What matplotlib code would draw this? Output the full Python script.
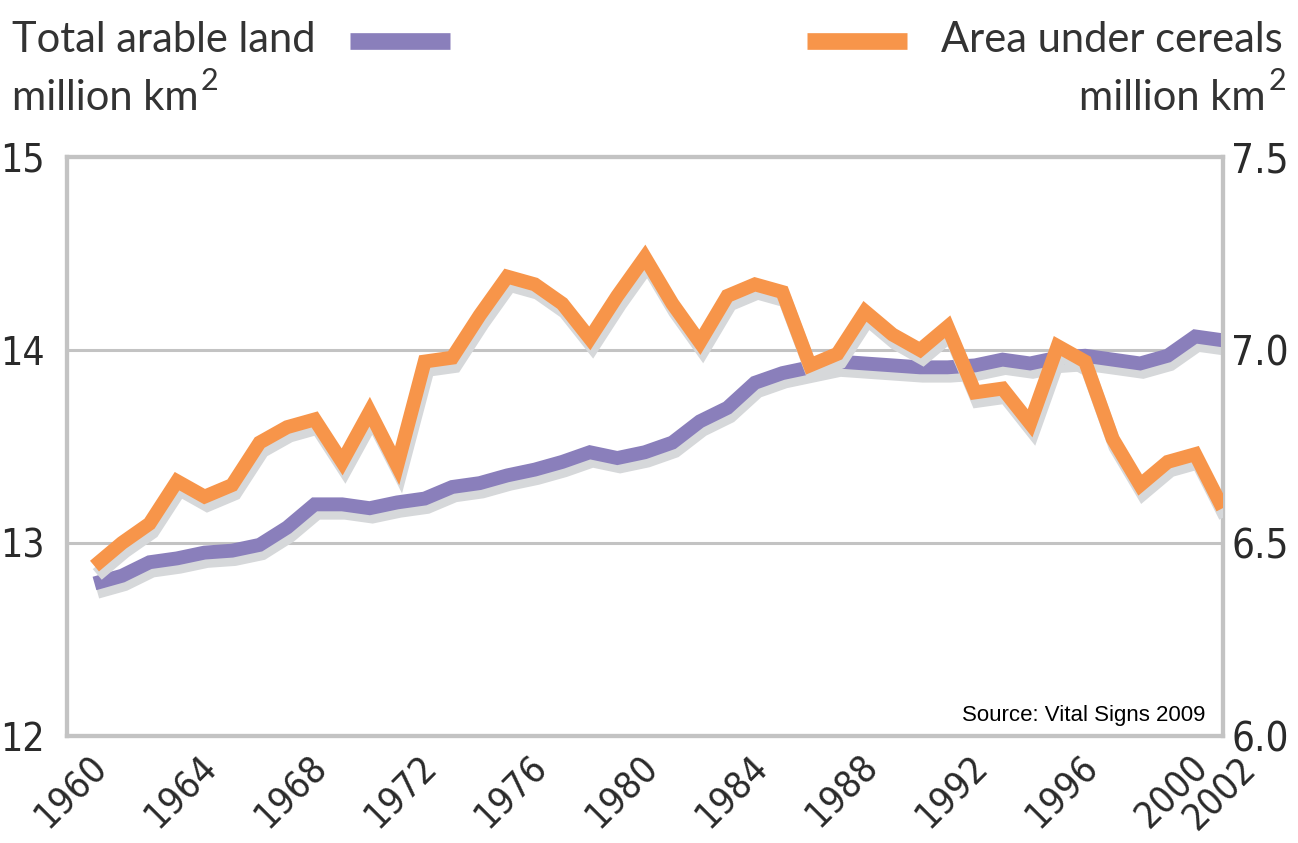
import matplotlib
matplotlib.use("Agg")
import matplotlib.pyplot as plt
import matplotlib.patheffects as pe
import matplotlib.transforms as mtransforms

years = list(range(1961, 2003))

# total arable land, million km2 (left axis)
arable = [12.79, 12.83, 12.90, 12.92, 12.95, 12.96, 12.99, 13.08, 13.20, 13.20,
          13.18, 13.21, 13.23, 13.29, 13.31, 13.35, 13.38, 13.42, 13.47, 13.44,
          13.47, 13.52, 13.63, 13.70, 13.83, 13.88, 13.91, 13.94, 13.93, 13.92,
          13.91, 13.91, 13.92, 13.95, 13.93, 13.96, 13.97, 13.95, 13.93, 13.97,
          14.07, 14.05]

# area under cereals, million km2 (right axis)
cereals = [6.44, 6.50, 6.55, 6.66, 6.62, 6.65, 6.76, 6.80, 6.82, 6.71,
           6.84, 6.70, 6.97, 6.98, 7.09, 7.19, 7.17, 7.12, 7.03, 7.14,
           7.24, 7.12, 7.02, 7.14, 7.17, 7.15, 6.96, 6.99, 7.10, 7.04,
           7.00, 7.06, 6.89, 6.90, 6.81, 7.01, 6.97, 6.77, 6.65, 6.71,
           6.73, 6.59]

left_ticks = [12, 13, 14, 15]
right_ticks = ["6.0", "6.5", "7.0", "7.5"]
year_labels = [1960, 1964, 1968, 1972, 1976, 1980, 1984, 1988, 1992, 1996, 2000, 2002]

purple = "#8a7fbb"
orange = "#f7954a"
grey = "#c3c3c3"
text_col = "#2a2a2a"
cond = dict(family="DejaVu Sans", fontstretch="condensed", color=text_col)
head = dict(family=["Lato", "DejaVu Sans"], fontsize=30, color="#333333")

fig = plt.figure(figsize=(12.98, 8.43), dpi=100)
ax = fig.add_axes([0.0516, 0.127, 0.8904, 0.6868])
ax2 = ax.twinx()

shadow = [pe.SimpleLineShadow(offset=(2, -6), shadow_color="#d6d8da", alpha=1.0),
          pe.Normal()]

for y in [13, 14]:
    ax.axhline(y, color=grey, lw=2.2, zorder=0)

ax.plot(years, arable, color=purple, lw=10, solid_joinstyle="miter",
        solid_capstyle="butt", path_effects=shadow, zorder=3)
ax2.plot(years, cereals, color=orange, lw=10, solid_joinstyle="miter",
         solid_capstyle="butt", path_effects=shadow, zorder=3)

ax.set_xlim(1960, 2002)
ax.set_ylim(12, 15)
ax2.set_ylim(6.0, 7.5)

for a in (ax, ax2):
    for s in a.spines.values():
        s.set_color(grey)
        s.set_linewidth(3)
    a.tick_params(length=0)

ax.set_xticks([])
ax.set_yticks(left_ticks)
ax.set_yticklabels([str(t) for t in left_ticks], fontsize=28, **cond)
ax.tick_params(axis="y", pad=16)
ax2.set_yticks([float(t) for t in right_ticks])
ax2.set_yticklabels(right_ticks, fontsize=29, **cond)
ax2.tick_params(axis="y", pad=6)

# rotated year labels under the axis
trans = mtransforms.blended_transform_factory(ax.transData, ax.transAxes)
for yr in year_labels:
    dy = -0.026 if yr == 2002 else -0.022
    dx = 0.55 if yr == 2002 else 0.8
    ax.text(yr + dx, dy, str(yr), transform=trans, rotation=45,
            rotation_mode="anchor", ha="right", va="top", fontsize=27, **cond)

ax.text(0.985, 0.018, "Source: Vital Signs 2009", transform=ax.transAxes,
        ha="right", va="bottom", fontsize=16, family=["Liberation Sans", "DejaVu Sans"],
        color="black")

# header texts and legend swatches
fig.text(0.009, 0.938, "Total arable land", va="baseline", ha="left", **head)
fig.text(0.988, 0.938, "Area under cereals", va="baseline", ha="right", **head)
u_left = fig.text(0.009, 0.87, "million km", va="baseline", ha="left", **head)
u_right = fig.text(0.975, 0.87, "million km", va="baseline", ha="right", **head)

# superscript 2 placed right after each "million km"
fig.canvas.draw()
r = fig.canvas.get_renderer()
for t in (u_left, u_right):
    bb = t.get_window_extent(r).transformed(fig.transFigure.inverted())
    fig.text(bb.x1 + 0.002, 0.893, "2", va="baseline", ha="left",
             family=["Lato", "DejaVu Sans"], fontsize=22, color="#333333")

fig.add_artist(plt.Line2D([0.2696, 0.3467], [0.951, 0.951], color=purple,
                          lw=12, solid_capstyle="butt"))
fig.add_artist(plt.Line2D([0.6217, 0.6988], [0.951, 0.951], color=orange,
                          lw=12, solid_capstyle="butt"))

fig.savefig("out.png", dpi=100)
